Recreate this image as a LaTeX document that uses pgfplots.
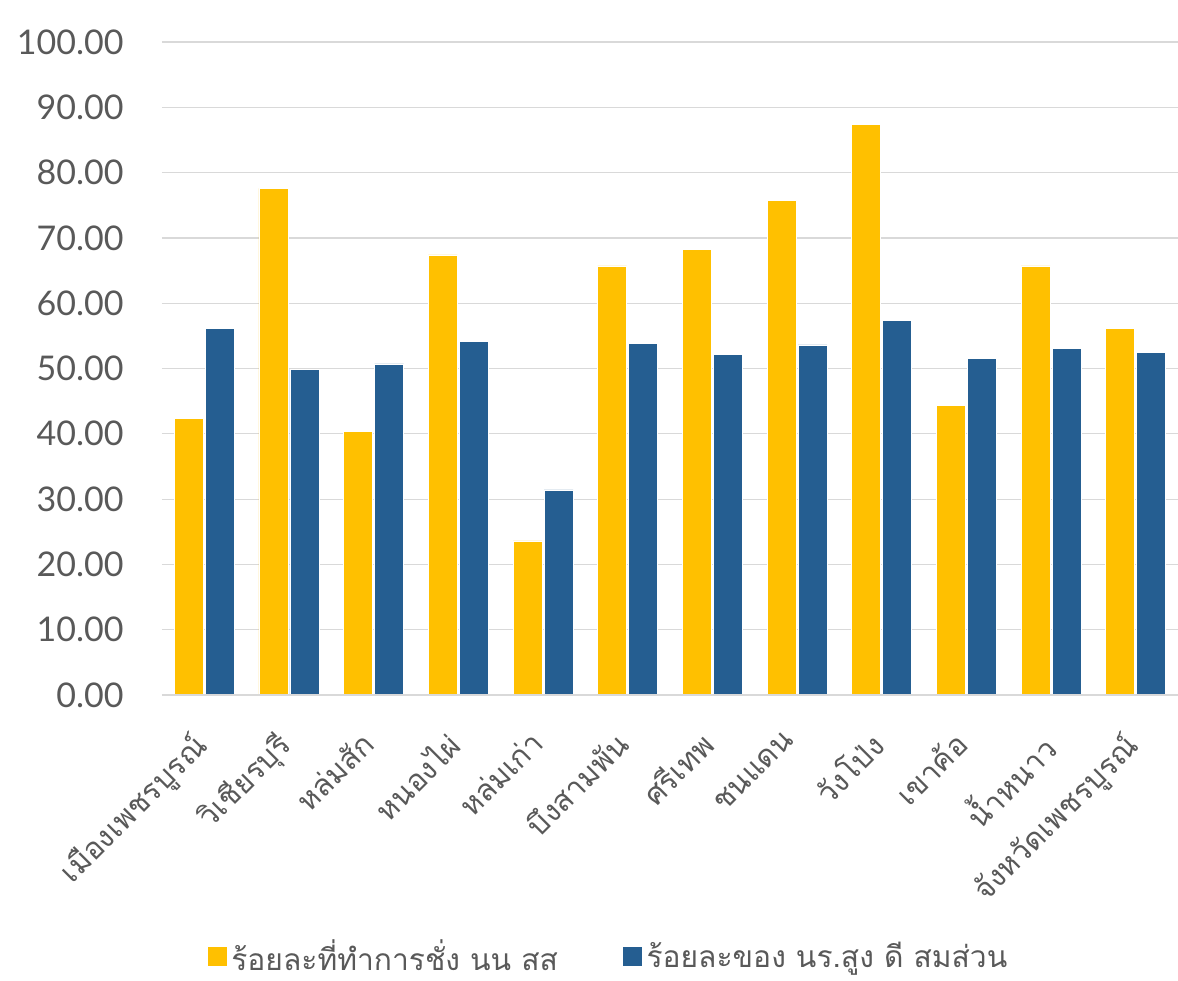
\documentclass[border=0pt]{standalone}
\usepackage{pgfplots}
\pgfplotsset{compat=1.18}
\usepackage{fontspec}
\setmainfont{Lato}
\newfontfamily\thaifont[Script=Thai]{Loma}
\definecolor{cyel}{HTML}{FFC000}
\definecolor{cblu}{HTML}{255E91}
\definecolor{cgrid}{HTML}{D9D9D9}
\definecolor{ctxt}{HTML}{595959}
\pgfplotstableread{
x a b
0 42.4 56.2
1 77.6 49.9
2 40.4 50.7
3 67.4 54.1
4 23.6 31.4
5 65.7 53.8
6 68.3 52.1
7 75.8 53.6
8 87.4 57.4
9 44.3 51.5
10 65.7 53.1
11 56.2 52.5
}\datatable
\begin{document}
\begin{tikzpicture}
\useasboundingbox (-81pt,-142.5pt) rectangle (508pt,347.5pt);
\begin{axis}[
  at={(0,0)}, anchor=south west,
  scale only axis, width=508pt, height=326.5pt,
  ybar=1pt, bar width=14.5pt,
  xmin=-0.5, xmax=11.5, ymin=0, ymax=100,
  ytick={0,10,...,100},
  yticklabel={\pgfmathprintnumber[fixed,fixed zerofill,precision=2]{\tick}},
  /pgf/number format/assume math mode=true,
  xtick=data,
  xticklabels={เมืองเพชรบูรณ์,วิเชียรบุรี,หล่มสัก,หนองไผ่,หล่มเก่า,บึงสามพัน,ศรีเทพ,ชนแดน,วังโป่ง,เขาค้อ,น้ำหนาว,จังหวัดเพชรบูรณ์},
  xticklabel style={font=\thaifont\fontsize{15}{18}\selectfont, rotate=45, anchor=north east, inner sep=0pt, xshift=-17pt, yshift=-7pt, text=ctxt},
  yticklabel style={font=\fontsize{17}{20}\selectfont, anchor=east, inner sep=0pt, xshift=-19pt, text=ctxt},
  major tick length=0pt,
  axis line style={draw=none},
  axis x line*=bottom, axis y line*=left,
  ymajorgrids, grid style={cgrid, line width=0.6pt},
  legend columns=2,
  legend style={at={(0.440,-0.400)}, anchor=center, draw=none, fill=none,
    font=\thaifont\fontsize{15}{18}\selectfont, text=ctxt,
    /tikz/every even column/.append style={column sep=30pt}},
  legend image code/.code={\fill[#1] (0pt,-5pt) rectangle (10pt,5pt);},
  clip=false,
]
\addplot[fill=cyel, draw=white, line width=0.3pt] table[x=x,y=a]{\datatable};
\addplot[fill=cblu, draw=white, line width=0.3pt] table[x=x,y=b]{\datatable};
\draw[cgrid, line width=0.8pt] (axis cs:-0.5,0) -- (axis cs:11.5,0);
\legend{ร้อยละที่ทำการชั่ง นน สส,ร้อยละของ นร.สูง ดี สมส่วน}
\end{axis}
\end{tikzpicture}
\end{document}
